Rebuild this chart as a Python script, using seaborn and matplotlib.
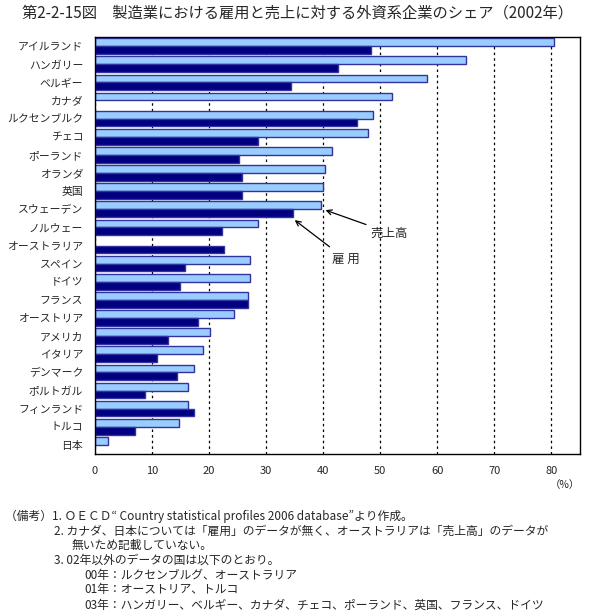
import numpy as np
import pandas as pd
import matplotlib
matplotlib.use("Agg")
import matplotlib.pyplot as plt
import seaborn as sns

# データ（図から読み取り、単位：%）
countries = ["アイルランド", "ハンガリー", "ベルギー", "カナダ", "ルクセンブルク", "チェコ",
             "ポーランド", "オランダ", "英国", "スウェーデン", "ノルウェー", "オーストラリア",
             "スペイン", "ドイツ", "フランス", "オーストリア", "アメリカ", "イタリア",
             "デンマーク", "ポルトガル", "フィンランド", "トルコ", "日本"]
sales = [80.5, 65.1, 58.2, 52.0, 48.7, 47.9, 41.5, 40.3, 40.0, 39.6, 28.6, np.nan,
         27.2, 27.1, 26.8, 24.4, 20.2, 18.9, 17.4, 16.3, 16.3, 14.7, 2.3]
employment = [48.4, 42.5, 34.4, np.nan, 45.9, 28.6, 25.3, 25.7, 25.7, 34.7, 22.3, 22.6,
              15.8, 14.9, 26.9, 18.1, 12.8, 10.9, 14.4, 8.8, 17.4, 7.0, np.nan]
series_names = ["売上高", "雇用"]
xticks = [0, 10, 20, 30, 40, 50, 60, 70, 80]

title = "第2-2-15図　製造業における雇用と売上に対する外資系企業のシェア（2002年）"
notes = [
    (5, "（備考）1. ＯＥＣＤ“ Country statistical profiles 2006 database”より作成。"),
    (54, "2. カナダ、日本については「雇用」のデータが無く、オーストラリアは「売上高」のデータが"),
    (72, "無いため記載していない。"),
    (54, "3. 02年以外のデータの国は以下のとおり。"),
    (84, "00年：ルクセンブルグ、オーストラリア"),
    (84, "01年：オーストリア、トルコ"),
    (84, "03年：ハンガリー、ベルギー、カナダ、チェコ、ポーランド、英国、フランス、ドイツ"),
]

n = len(countries)
df = pd.DataFrame({
    "国": countries * 2,
    "系列": [series_names[0]] * n + [series_names[1]] * n,
    "シェア": sales + employment,
})

sns.set_style("white")
plt.rcParams["font.family"] = ["Noto Sans CJK JP", "DejaVu Sans"]

W, H = 605, 613
fig = plt.figure(figsize=(W / 100, H / 100), dpi=100)
ax = fig.add_axes([95 / W, 1 - 454 / H, (580 - 95) / W, (454 - 37) / H])

sns.barplot(data=df, x="シェア", y="国", hue="系列", orient="h",
            palette={"売上高": "#99CCFF", "雇用": "#000080"},
            width=0.86, saturation=1, edgecolor="#3333A0", linewidth=1,
            errorbar=None, legend=False, ax=ax)

ax.set_xlim(0, 85)
ax.set_ylim(n - 0.5, -0.5)
ax.set_xticks(xticks)
ax.set_xticklabels([str(v) for v in xticks], fontsize=8)
ax.set_xlabel("")
ax.set_ylabel("")
ax.tick_params(axis="x", length=0, pad=9)
ax.tick_params(axis="y", length=0, pad=8.5, labelsize=7.8)
ax.set_axisbelow(True)
ax.xaxis.grid(True, color="black", linestyle=(0, (2, 2.5)), linewidth=0.9)
ax.yaxis.grid(False)
for s in ax.spines.values():
    s.set_visible(True)
    s.set_color("black")
    s.set_linewidth(1.0)

# 注記の矢印
ax.annotate("売上高", xy=(40.4, 9.05), xytext=(48.3, 10.3),
            fontsize=9, va="center", ha="left",
            arrowprops=dict(arrowstyle="->", color="black", lw=0.9, shrinkA=1, shrinkB=0))
ax.annotate("雇 用", xy=(35.0, 9.6), xytext=(41.5, 11.75),
            fontsize=9, va="center", ha="left",
            arrowprops=dict(arrowstyle="->", color="black", lw=0.9, shrinkA=3, shrinkB=0))

fig.text(22 / W, 1 - 13 / H, title, fontsize=11, va="center", ha="left")
fig.text(565 / W, 1 - 485 / H, "（%）", fontsize=7.5, va="center", ha="center")

y0 = 516
for i, (x, line) in enumerate(notes):
    fig.text(x / W, 1 - (y0 + i * 14.8) / H, line, fontsize=8.5, va="center", ha="left")

fig.savefig("out.png", dpi=100)
